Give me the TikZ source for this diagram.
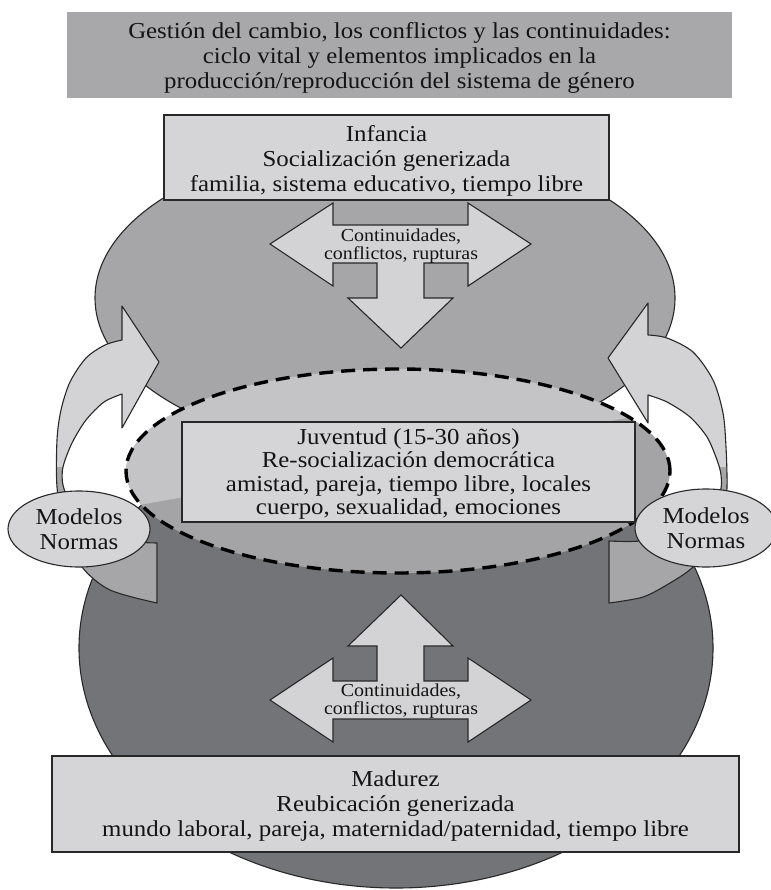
\documentclass[tikz,border=0pt]{standalone}
\usepackage{fontspec}
\setmainfont[FakeStretch=1.09]{Liberation Serif}
\usetikzlibrary{shapes.geometric}
\definecolor{titlegray}{RGB}{168,168,170}
\definecolor{boxlight}{RGB}{213,213,215}
\definecolor{topgray}{RGB}{166,166,168}
\definecolor{botgray}{RGB}{115,116,119}
\definecolor{arrowlight}{RGB}{211,211,213}
\definecolor{arrowmid}{RGB}{166,166,168}
\definecolor{dashlight}{RGB}{196,196,198}
\definecolor{dashmid}{RGB}{164,164,166}
\definecolor{edge}{RGB}{40,40,40}
\definecolor{ink}{RGB}{20,20,20}
\begin{document}
\begin{tikzpicture}[x=1pt,y=-1pt,
  bord/.style={draw=edge,line width=1.1pt},
  mainfont/.style={font=\fontsize{22.8pt}{25pt}\selectfont},
  smallfont/.style={font=\fontsize{18.3pt}{18pt}\selectfont},
  lbox/.style={rectangle,bord,fill=boxlight,inner sep=0pt},
  txt/.style={align=center,mainfont,text=ink,inner sep=0pt},
  blob/.style={ellipse,bord,inner sep=0pt},
  bigarrow/.style={bord,fill=arrowlight,line join=miter}]
\useasboundingbox (0,0) rectangle (770,890);

% big background ellipses
\node[blob,fill=topgray,minimum width=580pt,minimum height=310pt] (infell) at (385,298) {};
\node[blob,fill=botgray,minimum width=634pt,minimum height=480pt] (madell) at (396,648) {};

% curved arrows
\def\leftcurve{(157,543) -- (157,603) -- plot[smooth] coordinates {(157,603) (110,590) (82,567) (64,530) (57,487) (57,440) (61,410) (70,382) (86,358) (105,345) (122,340)} -- (122,306) -- (159,362) -- (122,428) -- (122,394) -- plot[smooth] coordinates {(122,394) (104,402) (86,420) (72,443) (63,467) (63,485) (72,505) (100,530) (130,541) (157,543)} -- cycle}
\def\rightcurve{(609,541) -- (609,603) -- plot[smooth] coordinates {(609,603) (643,597) (670,583) (692,568) (712,545) (724,515) (727,487) (726,447) (723,413) (713,380) (693,352) (667,338) (648,335)} -- (648,303) -- (608,358) -- (648,423) -- (648,395) -- plot[smooth] coordinates {(648,395) (667,402) (690,417) (707,437) (717,460) (721,475) (720,492) (705,515) (680,533) (640,541) (609,541)} -- cycle}
\fill[arrowlight] \leftcurve;
\fill[arrowlight] \rightcurve;
\begin{scope}
  \clip (0,467) rectangle (770,890);
  \fill[arrowmid] \leftcurve;
  \fill[arrowmid] \rightcurve;
\end{scope}
\draw[bord,line join=round] \leftcurve;
\draw[bord,line join=round] \rightcurve;

% dashed youth ellipse
\begin{scope}
  \clip (398,471) ellipse [x radius=272pt, y radius=102pt];
  \fill[dashmid] (100,360) rectangle (700,590);
  \fill[dashlight] (100,360) -- (700,360) -- (700,405) -- (100,512) -- cycle;
\end{scope}
\node[ellipse,draw=black,line width=3.4pt,dash pattern=on 14pt off 8pt,minimum width=544pt,minimum height=204pt,inner sep=0pt] (juvell) at (398,471) {};

\node[lbox,minimum width=453pt,minimum height=100pt] (juv) at (408.5,472) {};
\node[txt,font=\fontsize{22.8pt}{23.3pt}\selectfont] (juvtxt) at ([yshift=-2pt]juv.center)
  {Juventud (15-30 años)\\Re-socialización democrática\\amistad, pareja, tiempo libre, locales\\cuerpo, sexualidad, emociones};

% models / norms
\node[blob,fill=boxlight,minimum width=142pt,minimum height=76pt,align=center,mainfont,text=ink] (modl) at (79,529) {Modelos\\Normas};
\node[blob,fill=boxlight,minimum width=142pt,minimum height=78pt,align=center,mainfont,text=ink] (modr) at (706,528) {Modelos\\Normas};

% childhood box
\node[lbox,minimum width=445pt,minimum height=85pt] (inf) at (386.5,157.5) {};
\node[txt] (inftxt) at ([yshift=-3pt]inf.center)
  {Infancia\\Socialización generizada\\familia, sistema educativo, tiempo libre};

% top compound arrow
\draw[bigarrow] (270,244) -- (333,203) -- (333,225) -- (468,225) -- (468,203) -- (531,244) -- (468,286) -- (468,263) -- (424,263) -- (424,298) -- (453,298) -- (401,348) -- (348,298) -- (377,298) -- (377,263) -- (333,263) -- (333,286) -- cycle;
\node[smallfont,align=center,inner sep=0pt,text=ink] (ctop) at (401,246) {Continuidades,\\conflictos, rupturas};

% bottom compound arrow
\draw[bigarrow] (401,595) -- (453,646) -- (424,646) -- (424,681) -- (468,681) -- (468,658) -- (531,700) -- (468,742) -- (468,719) -- (333,719) -- (333,742) -- (270,700) -- (333,658) -- (333,681) -- (377,681) -- (377,646) -- (348,646) -- cycle;
\node[smallfont,align=center,inner sep=0pt,text=ink] (cbot) at (401,701) {Continuidades,\\conflictos, rupturas};

% adulthood box
\node[lbox,minimum width=687pt,minimum height=96pt] (mad) at (395.5,804) {};
\node[txt] (madtxt) at ([yshift=-2pt]mad.center)
  {Madurez\\Reubicación generizada\\mundo laboral, pareja, maternidad/paternidad, tiempo libre};

% title
\node[rectangle,fill=titlegray,minimum width=665pt,minimum height=86pt,inner sep=0pt] (title) at (399.5,55) {};
\node[txt] (titletxt) at ([yshift=-3pt]title.center)
  {Gestión del cambio, los conflictos y las continuidades:\\ciclo vital y elementos implicados en la\\producción/reproducción del sistema de género};
\end{tikzpicture}
\end{document}
